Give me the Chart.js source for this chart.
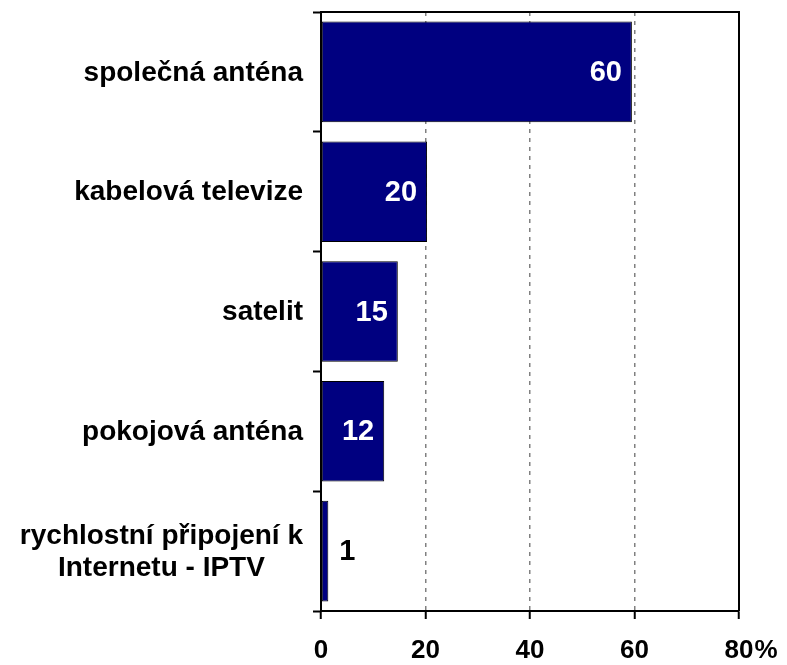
<!DOCTYPE html>
<html>
<head>
<meta charset="utf-8">
<script src="https://cdn.jsdelivr.net/npm/chart.js@4/dist/chart.umd.min.js"></script>
<style>
  html, body { margin: 0; padding: 0; background: #fff; }
  #wrap { width: 787px; height: 665px; }
</style>
</head>
<body>
<div id="wrap"><canvas id="chart" width="787" height="665"></canvas></div>
<script>
// Données
const categories = [
  ['společná anténa'],
  ['kabelová televize'],
  ['satelit'],
  ['pokojová anténa'],
  ['rychlostní připojení k', 'Internetu - IPTV']
];
const values = [59.5, 20.3, 14.7, 12.1, 1.4];
const xTicks = [0, 20, 40, 60, 80];

const FONT = '"Liberation Sans", Arial, sans-serif';
const TICK_SIZE = 26;

// Libellés des catégories (centrés ligne par ligne, alignés à droite en bloc)
const categoryLabels = {
  id: 'categoryLabels',
  afterDraw(chart) {
    const ctx = chart.ctx;
    const yScale = chart.scales.y;
    ctx.save();
    ctx.font = 'bold 28px ' + FONT;
    ctx.fillStyle = '#000';
    ctx.textBaseline = 'middle';
    ctx.textAlign = 'center';
    const right = chart.chartArea.left - 18;
    categories.forEach((lines, i) => {
      const yc = yScale.getPixelForTick(i) + 1;
      const w = Math.max(...lines.map(l => ctx.measureText(l).width));
      const lh = 32;
      lines.forEach((l, k) => {
        const y = yc + (k - (lines.length - 1) / 2) * lh;
        ctx.fillText(l, right - w / 2, y);
      });
    });
    ctx.restore();
  }
};

// Valeurs sur les barres + cadre + signe %
const barValues = {
  id: 'barValues',
  afterDatasetsDraw(chart) {
    const ctx = chart.ctx;
    const meta = chart.getDatasetMeta(0);
    ctx.save();
    ctx.font = 'bold 29px ' + FONT;
    ctx.textBaseline = 'middle';
    meta.data.forEach((bar, i) => {
      const txt = String(Math.round(values[i]));
      if (values[i] > 5) {
        ctx.fillStyle = '#fff';
        ctx.textAlign = 'right';
        ctx.fillText(txt, bar.x - 10, bar.y + 1);
      } else {
        ctx.fillStyle = '#000';
        ctx.textAlign = 'left';
        ctx.fillText(txt, bar.x + 11, bar.y + 1);
      }
    });
    ctx.restore();
  },
  afterDraw(chart) {
    const ctx = chart.ctx;
    const a = chart.chartArea;
    ctx.save();
    ctx.strokeStyle = '#000';
    ctx.lineWidth = 2;
    ctx.beginPath();
    ctx.moveTo(a.left, a.top);
    ctx.lineTo(a.right, a.top);
    ctx.lineTo(a.right, a.bottom);
    ctx.stroke();
    // le "%" après le dernier tick
    const xs = chart.scales.x;
    ctx.font = 'bold ' + TICK_SIZE + 'px ' + FONT;
    ctx.fillStyle = '#000';
    ctx.textBaseline = 'middle';
    ctx.textAlign = 'left';
    const last = xTicks[xTicks.length - 1];
    const w = ctx.measureText(String(last)).width;
    ctx.fillText('%', xs.getPixelForValue(last) + w / 2 + 1, a.bottom + 8 + 16 + TICK_SIZE * 0.6);
    ctx.restore();
  }
};

new Chart(document.getElementById('chart'), {
  type: 'bar',
  data: {
    labels: categories.map(c => c.join(' ')),
    datasets: [{
      data: values,
      backgroundColor: '#000080',
      borderColor: '#000',
      borderWidth: 1,
      borderSkipped: false,
      categoryPercentage: 1,
      barPercentage: 0.84
    }]
  },
  options: {
    indexAxis: 'y',
    responsive: false,
    animation: false,
    layout: { padding: { left: 313, right: 48, top: 12, bottom: 0 } },
    plugins: { legend: { display: false }, tooltip: { enabled: false } },
    scales: {
      x: {
        min: 0, max: 80,
        afterBuildTicks: (s) => { s.ticks = xTicks.map(v => ({ value: v })); },
        afterFit: (s) => { s.height = 54; },
        ticks: {
          color: '#000',
          font: { family: FONT, size: TICK_SIZE, weight: 'bold' },
          padding: 16,
          maxRotation: 0
        },
        grid: {
          color: '#808080',
          lineWidth: 1.5,
          tickColor: '#000',
          tickWidth: 2,
          tickLength: 8,
          tickBorderDash: []
        },
        border: { color: '#000', width: 2, dash: [4, 5] }
      },
      y: {
        ticks: { display: false },
        grid: {
          drawOnChartArea: false,
          offset: true,
          tickLength: 8,
          tickColor: '#000',
          tickWidth: 2
        },
        border: { color: '#000', width: 2 }
      }
    }
  },
  plugins: [categoryLabels, barValues]
});
</script>
</body>
</html>
